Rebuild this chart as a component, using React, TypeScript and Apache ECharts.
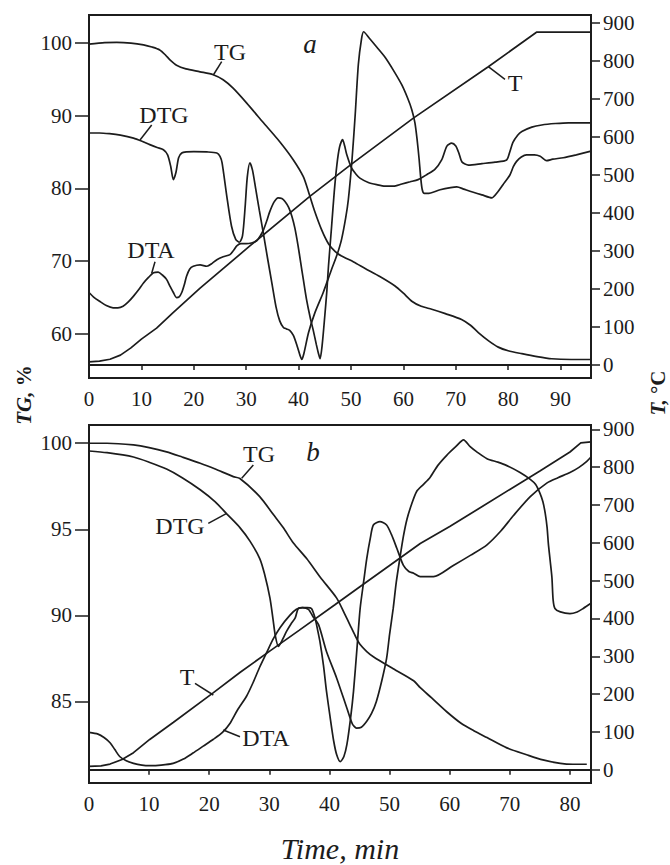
import React, { useEffect, useRef } from "react";
import * as echarts from "echarts";

// ---------- Panel a data: [time (min), value] ----------
const TG_A: [number, number][] = [
  [0, 99.8], [3, 100.0], [5.3, 100.05], [8, 99.95], [10.4, 99.7], [12, 99.4], [13.5, 99.0], [14.6, 98.3],
  [15.5, 97.6], [16.7, 96.9], [18.5, 96.4], [21.2, 96.0], [23.7, 95.6], [25.6, 94.9], [27.5, 93.75],
  [30.1, 91.7], [33.3, 89.0], [36.4, 86.4], [39, 83.9], [40.9, 81.6], [41.9, 79.5], [43, 77.0],
  [44.4, 74.3], [45.7, 72.4], [47, 71.3], [48.2, 70.7], [50.5, 69.9], [52.7, 69.0], [55.5, 67.9],
  [58.4, 66.6], [60, 65.6], [61.6, 64.5], [63.4, 63.8], [65.4, 63.4], [68, 62.8], [71.1, 62.0],
  [72.8, 61.2], [74.3, 60.2], [76.2, 59.1], [78.1, 58.2], [80, 57.7], [82.6, 57.3], [85.5, 56.9],
  [88.3, 56.6], [92, 56.5], [95.8, 56.5],
];

const DTG_A: [number, number][] = [
  [0, 87.6], [2, 87.6], [3.9, 87.5], [6, 87.3], [8.5, 86.9], [10, 86.5], [11.6, 86.0], [13, 85.6],
  [14.2, 85.3], [15, 84.6], [15.6, 83.0], [16.1, 81.2], [16.6, 82.2], [17.1, 84.2], [17.7, 84.85],
  [18.6, 85.0], [20, 85.05], [22.5, 85.0], [24.4, 84.85], [25.0, 84.4], [25.4, 83.5], [26.3, 78.9],
  [27.2, 74.8], [28.0, 73.0], [28.7, 72.6], [29.3, 73.5], [29.8, 77.5], [30.2, 81.5], [30.7, 83.5],
  [31.2, 82.5], [31.8, 80.0], [32.5, 77.0], [33.3, 73.7], [34.1, 70.3], [34.9, 67.0], [35.7, 63.7],
  [36.4, 61.8], [37.1, 60.9], [37.7, 60.7], [38.3, 60.5], [39.0, 59.8], [39.7, 58.4], [40.3, 57.0],
  [40.6, 56.5], [41.0, 57.3], [41.9, 60.2], [43.1, 62.9], [44.7, 65.7], [46.3, 68.9], [47.3, 70.8],
  [48.2, 73.0], [49.0, 76.0], [49.5, 78.5], [50.2, 84.0], [50.8, 90.1], [51.4, 97.0], [52.0, 100.5],
  [52.4, 101.5], [53.5, 100.6], [54.9, 99.4], [56.5, 98.0], [58.1, 96.2], [59.7, 94.2], [60.8, 92.4],
  [61.6, 90.8], [62.2, 89.0], [62.6, 86.8], [63.0, 84.0], [63.3, 81.5], [63.6, 79.8], [64.0, 79.3],
  [64.6, 79.3], [67, 79.8], [69, 80.1], [70.2, 80.2], [71.5, 79.9], [72.7, 79.6], [75, 79.1],
  [76.9, 78.7], [78, 79.5], [79, 80.5], [80.3, 81.8], [81.0, 83.0], [81.6, 83.7], [82.5, 84.3],
  [83.5, 84.6], [85, 84.6], [86.1, 84.4], [87.3, 83.8], [88.5, 84.0], [90.5, 84.2], [93, 84.6],
  [95.8, 85.1],
];

const DTA_A: [number, number][] = [
  [0, 65.7], [1, 65.0], [2, 64.5], [3.3, 63.9], [4.6, 63.6], [5.5, 63.6], [6.5, 63.8], [7.5, 64.4],
  [8.5, 65.2], [9.5, 66.1], [10.4, 67.0], [11.4, 67.8], [12.3, 68.4], [13.2, 68.5], [14.0, 68.1],
  [14.8, 67.5], [15.5, 66.5], [16.1, 65.7], [16.7, 65.0], [17.2, 65.1], [17.7, 65.7], [18.2, 66.8],
  [18.6, 67.9], [19.2, 68.9], [19.9, 69.3], [21.2, 69.5], [22.5, 69.3], [23.5, 69.7], [24.4, 70.2],
  [25.6, 70.6], [26.9, 70.9], [27.6, 71.5], [28.2, 72.1], [29, 72.4], [30, 72.4], [31, 72.5],
  [32, 72.8], [32.7, 73.5], [33.3, 74.3], [34.0, 75.7], [34.5, 76.8], [35.3, 78.1], [36.1, 78.7],
  [36.8, 78.6], [37.4, 78.2], [38.1, 77.4], [38.7, 76.2], [39.3, 74.5], [39.9, 72.1], [40.4, 69.8],
  [40.9, 67.5], [41.5, 64.8], [42.2, 62.3], [42.8, 60.5], [43.4, 58.5], [43.8, 57.3], [44.1, 56.6],
  [44.5, 58.5], [45.0, 62.5], [45.4, 66.0], [45.7, 69.3], [46.3, 74.8], [46.8, 79.5], [47.3, 83.2],
  [47.8, 85.6], [48.4, 86.7], [48.8, 85.8], [49.2, 84.6], [50.1, 82.8], [51.0, 81.9], [51.7, 81.4],
  [53.3, 80.8], [54.9, 80.5], [56.5, 80.3], [58.1, 80.3], [59.7, 80.6], [61.3, 80.9], [62.8, 81.2],
  [64.5, 81.9], [66, 82.6], [67.3, 83.9], [68.3, 85.8], [69.2, 86.2], [70.0, 85.8], [70.6, 84.8],
  [71.2, 83.6], [72.4, 83.2], [75, 83.4], [77.5, 83.6], [79.7, 83.9], [80.3, 85.0], [80.9, 86.3],
  [81.8, 87.3], [82.6, 87.8], [84.5, 88.4], [86.4, 88.7], [89, 88.9], [91.5, 89.0], [95.8, 89.0],
];

const T_A: [number, number][] = [
  [0, 8], [2, 10], [4, 15], [6, 26], [8, 45], [10, 68], [12.9, 97], [16, 137], [21.2, 202],
  [30.7, 313], [42.2, 444], [50.1, 528], [61.9, 649], [76.2, 784], [85.4, 875], [95.8, 875],
];

// ---------- Panel b data ----------
const TG_B: [number, number][] = [
  [0, 100.0], [3, 100.0], [7.4, 99.9], [10, 99.75], [12.9, 99.5], [15.5, 99.2], [18.5, 98.84],
  [21, 98.5], [24, 98.06], [25.1, 97.95], [28.4, 96.9], [30.7, 95.84], [32.3, 95.1], [34, 94.2],
  [36.2, 93.3], [38.5, 92.2], [41.2, 91.0], [42.5, 90.1], [43.4, 89.45], [44.3, 88.8], [45.1, 88.3],
  [46.2, 87.9], [47.3, 87.6], [50.6, 86.9], [54, 86.2], [55.1, 85.8], [57, 85.2], [59.5, 84.4],
  [62, 83.7], [64, 83.3], [66.2, 82.9], [69.5, 82.3], [72.8, 81.9], [75.5, 81.6], [78.4, 81.4],
  [80.5, 81.35], [82.8, 81.35],
];

const DTG_B: [number, number][] = [
  [0, 99.55], [3, 99.45], [7.4, 99.2], [10, 98.9], [12.9, 98.5], [15.5, 98.0], [18.5, 97.3],
  [21, 96.6], [22.9, 95.9], [25.1, 95.1], [26.8, 94.3], [28.4, 93.3], [29.2, 92.4], [30.1, 91.0],
  [30.6, 89.8], [31.0, 88.8], [31.5, 88.2], [32.2, 88.6], [32.9, 89.1], [33.6, 89.5], [34.3, 89.85],
  [34.8, 90.4], [35.5, 90.45], [36.3, 90.45], [37.0, 90.4], [37.6, 89.85], [38.0, 89.2], [38.4, 88.5],
  [39.0, 87.1], [39.5, 85.6], [40.1, 84.1], [40.7, 82.7], [41.2, 81.9], [41.8, 81.5], [42.4, 81.8],
  [42.9, 82.5], [43.5, 84.0], [44.0, 85.6], [44.6, 88.2], [45.1, 90.4], [45.7, 92.0], [46.2, 93.3],
  [46.8, 94.5], [47.3, 95.25], [48.4, 95.45], [49.5, 95.25], [50.3, 94.7], [51.2, 93.9], [52.3, 92.9],
  [53.2, 92.55], [54, 92.45], [55.1, 92.25], [57.3, 92.25], [60.6, 92.9], [63.5, 93.5], [66.2, 94.1],
  [68.5, 94.9], [70.6, 95.8], [73.4, 96.9], [76.2, 97.7], [78, 98.0], [80, 98.3], [81.5, 98.6],
  [82.8, 98.95], [83.5, 99.2],
];

const DTA_B: [number, number][] = [
  [0, 83.2], [1.5, 83.1], [2.5, 82.9], [3.5, 82.6], [4.3, 82.2], [5.1, 81.8], [6.2, 81.55],
  [7.4, 81.4], [8.8, 81.3], [10.1, 81.27], [12, 81.3], [14, 81.4], [15.7, 81.65], [17.3, 82.0],
  [19, 82.4], [20.7, 82.8], [22.2, 83.2], [23.5, 83.75], [24.7, 84.5], [26.2, 85.3], [27.3, 86.1],
  [28.4, 87.0], [29.5, 87.8], [30.6, 88.6], [31.8, 89.3], [33.4, 90.0], [34.5, 90.35], [35.5, 90.45],
  [36.5, 90.35], [37.3, 89.9], [38.2, 89.45], [39.5, 87.9], [41.2, 86.35], [42.9, 84.6], [43.8, 83.7],
  [44.5, 83.45], [45.3, 83.5], [46.2, 83.85], [47.0, 84.3], [47.8, 85.0], [48.7, 86.2], [49.5, 87.5],
  [50.0, 88.9], [50.6, 90.4], [51.1, 91.9], [51.7, 93.3], [52.3, 94.6], [52.9, 95.6], [53.7, 96.5],
  [54.5, 97.2], [55.6, 97.6], [56.7, 98.0], [58, 98.7], [59.5, 99.3], [61, 99.8], [62.3, 100.2],
  [63.4, 99.8], [64.5, 99.5], [66.2, 99.1], [68, 98.9], [69.5, 98.7], [71.7, 98.3], [73.4, 97.9],
  [74.3, 97.6], [75, 97.1], [75.5, 96.6], [75.9, 95.9], [76.2, 95.1], [76.4, 94.2], [76.7, 93.2],
  [77.0, 92.2], [77.2, 90.9], [77.5, 90.4], [78.4, 90.2], [80, 90.1], [81.2, 90.2], [82.2, 90.4],
  [83.5, 90.7],
];

const T_B: [number, number][] = [
  [0, 9], [2, 10], [3.5, 15], [5.5, 27], [7.4, 45], [10.1, 80], [14, 125], [20.7, 204], [25.1, 257],
  [30, 313], [35, 369], [40.9, 436], [45, 483], [50, 540], [55.1, 598], [60, 643], [65, 692],
  [70, 741], [75, 790], [80, 840], [81.8, 864], [83.5, 867],
];

// ---------- tick labels ----------
const X_TICKS_A = [0, 10, 20, 30, 40, 50, 60, 70, 80, 90];
const X_TICKS_B = [0, 10, 20, 30, 40, 50, 60, 70, 80];
const TG_TICKS_A = [60, 70, 80, 90, 100];
const TG_TICKS_B = [85, 90, 95, 100];
const T_TICKS = [0, 100, 200, 300, 400, 500, 600, 700, 800, 900];

const INK = "#1c1c1c";
const FONT = "Liberation Serif";

export default function App() {
  const ref = useRef<HTMLDivElement>(null);

  useEffect(() => {
    if (!ref.current) return;
    const chart = echarts.init(ref.current, null, { renderer: "svg" });

    const axisLine = { show: true, lineStyle: { color: INK, width: 2 } };
    const labelBase = { fontFamily: FONT, fontSize: 21, color: INK };

    const xAxis = (gridIndex: number, max: number, ticks: number[]) => ({
      type: "value",
      gridIndex,
      min: 0,
      max,
      axisLine,
      axisTick: { show: true, length: 5, inside: false, lineStyle: { color: INK, width: 1.5 }, customValues: ticks },
      axisLabel: { ...labelBase, margin: 10, customValues: ticks },
      splitLine: { show: false },
    });

    const yLeft = (gridIndex: number, min: number, max: number, ticks: number[]) => ({
      type: "value",
      gridIndex,
      position: "left",
      min,
      max,
      axisLine,
      axisTick: { show: true, length: 14, lineStyle: { color: INK, width: 1.5 }, customValues: ticks },
      axisLabel: { ...labelBase, margin: 17, customValues: ticks },
      splitLine: { show: false },
    });

    const yRight = (gridIndex: number, min: number, max: number) => ({
      type: "value",
      gridIndex,
      position: "right",
      min,
      max,
      axisLine,
      axisTick: { show: true, length: 9, lineStyle: { color: INK, width: 1.5 }, customValues: T_TICKS },
      axisLabel: { ...labelBase, margin: 12, customValues: T_TICKS },
      splitLine: { show: false },
    });

    const line = (data: [number, number][], xi: number, yi: number, smooth: number | boolean = 0.25) => ({
      type: "line",
      xAxisIndex: xi,
      yAxisIndex: yi,
      data,
      showSymbol: false,
      symbol: "none",
      smooth,
      silent: true,
      lineStyle: { color: INK, width: 1.7 },
    });

    const txt = (text: string, x: number, y: number, size = 24, extra: any = {}) => ({
      type: "text",
      x,
      y,
      silent: true,
      style: {
        text,
        fontFamily: FONT,
        fontSize: size,
        fill: INK,
        align: "center",
        verticalAlign: "middle",
        ...extra,
      },
    });

    const lead = (x1: number, y1: number, x2: number, y2: number) => ({
      type: "line",
      silent: true,
      shape: { x1, y1, x2, y2 },
      style: { stroke: INK, lineWidth: 1.5 },
    });

    const title = (x: number, y: number, a: string, b: string) => ({
      type: "text",
      x,
      y,
      rotation: Math.PI / 2,
      silent: true,
      style: {
        text: `{i|${a}} {n|${b}}`,
        fontFamily: FONT,
        fontSize: 21,
        fill: INK,
        align: "center",
        verticalAlign: "middle",
        rich: {
          i: { fontFamily: FONT, fontSize: 21, fontStyle: "italic", fontWeight: "bold", fill: INK },
          n: { fontFamily: FONT, fontSize: 21, fontWeight: "bold", fill: INK },
        },
      },
    });

    chart.setOption({
      animation: false,
      backgroundColor: "#ffffff",
      grid: [
        { left: 89, top: 15, width: 502, height: 363, show: true, borderColor: INK, borderWidth: 2, backgroundColor: "transparent" },
        { left: 89, top: 425, width: 502, height: 358, show: true, borderColor: INK, borderWidth: 2, backgroundColor: "transparent" },
      ],
      xAxis: [xAxis(0, 95.8, X_TICKS_A), xAxis(1, 83.5, X_TICKS_B)],
      yAxis: [
        yLeft(0, 53.96, 103.8, TG_TICKS_A),
        yRight(0, -34.2, 920.2),
        yLeft(1, 80.26, 101.06, TG_TICKS_B),
        yRight(1, -35.1, 911.4),
      ],
      series: [
        line(TG_A, 0, 0),
        line(DTG_A, 0, 0),
        line(DTA_A, 0, 0),
        line(T_A, 0, 1, false),
        line(TG_B, 1, 2),
        line(DTG_B, 1, 2),
        line(DTA_B, 1, 2),
        line(T_B, 1, 3, false),
      ],
      graphic: [
        // panel a labels
        txt("TG", 230, 52),
        lead(221.7, 61.7, 213.3, 75),
        txt("DTG", 164, 115),
        lead(151.7, 125, 140, 140),
        txt("DTA", 151, 250),
        lead(155, 261.7, 151.7, 273.3),
        txt("T", 515, 83),
        lead(488.3, 66.7, 505, 79.3),
        txt("a", 310, 44, 27, { fontStyle: "italic" }),
        // panel b labels
        txt("TG", 259, 454),
        lead(253.3, 465, 241.7, 478.3),
        txt("DTG", 180, 526),
        lead(208.3, 523.3, 226.7, 513.3),
        txt("T", 187, 677),
        lead(195, 683.3, 213.3, 695),
        txt("DTA", 266, 738),
        lead(240, 736.7, 223.3, 730),
        txt("b", 313, 452, 27, { fontStyle: "italic" }),
        // axis titles
        title(24, 395, "TG,", "%"),
        title(658, 393, "T,", "°C"),
        txt("Time, min", 340, 848, 30, { fontStyle: "italic" }),
      ],
    });

    return () => chart.dispose();
  }, []);

  return (
    <div
      ref={ref}
      style={{ position: "fixed", left: 0, top: 0, width: 670, height: 865, background: "#fff" }}
    />
  );
}
